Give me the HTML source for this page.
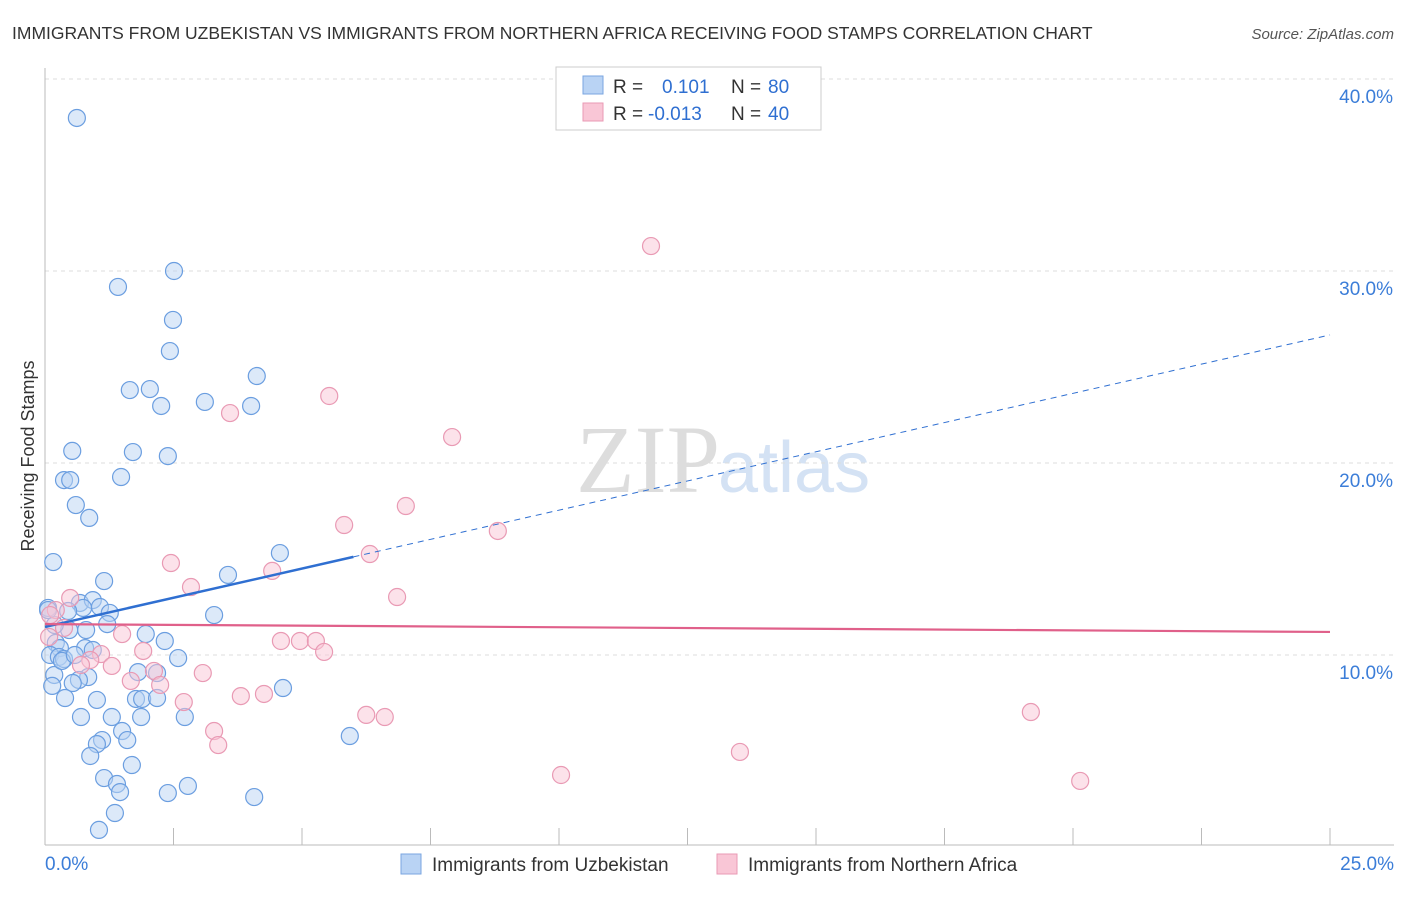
<!DOCTYPE html>
<html><head><meta charset="utf-8"><style>
body{margin:0;background:#fff;font-family:"Liberation Sans",sans-serif;}
svg text{font-family:"Liberation Sans",sans-serif;}
</style></head><body>
<svg id="chart" width="1406" height="892">
<text x="12" y="39" font-size="17.5" fill="#333">IMMIGRANTS FROM UZBEKISTAN VS IMMIGRANTS FROM NORTHERN AFRICA RECEIVING FOOD STAMPS CORRELATION CHART</text>
<text x="1394" y="39" font-size="15" fill="#555" text-anchor="end" font-style="italic">Source: ZipAtlas.com</text>
<text x="720" y="492" font-size="96" fill="#ddd" text-anchor="end" font-family="Liberation Serif" style="font-family:'Liberation Serif',serif">ZIP</text>
<text x="718" y="492" font-size="72" fill="#d4e2f4">atlas</text>
<g id="grid"></g><g id="axes"></g><g id="marks"></g>
<text transform="translate(34,456) rotate(-90)" font-size="18" fill="#333" text-anchor="middle">Receiving Food Stamps</text>
<g>
<rect x="556" y="67" width="265" height="63" fill="#fff" stroke="#ccc"/>
<rect x="583" y="76" width="20" height="18" fill="#b9d3f4" stroke="#7aa6e0"/>
<rect x="583" y="103" width="20" height="18" fill="#f9c6d6" stroke="#e99ab4"/>
<text x="613" y="93" font-size="19" fill="#333">R =</text>
<text x="662" y="93" font-size="19" fill="#2f6fd1">0.101</text>
<text x="731" y="93" font-size="19" fill="#333">N =</text>
<text x="768" y="93" font-size="19" fill="#2f6fd1">80</text>
<text x="613" y="120" font-size="19" fill="#333">R =</text>
<text x="648" y="120" font-size="19" fill="#2f6fd1">-0.013</text>
<text x="731" y="120" font-size="19" fill="#333">N =</text>
<text x="768" y="120" font-size="19" fill="#2f6fd1">40</text>
</g>
<g>
<rect x="401" y="854" width="20" height="20" fill="#b9d3f4" stroke="#7aa6e0"/>
<text x="432" y="871" font-size="19" fill="#333">Immigrants from Uzbekistan</text>
<rect x="717" y="854" width="20" height="20" fill="#f9c6d6" stroke="#e99ab4"/>
<text x="748" y="871" font-size="19" fill="#333">Immigrants from Northern Africa</text>
</g>
</svg>
<script>
const blueX=[0.62,1.42,2.51,2.49,2.43,4.12,1.65,2.04,2.26,3.11,4.01,0.53,1.71,2.39,0.37,0.49,1.48,0.60,0.86,0.16,4.57,1.15,3.56,0.06,0.68,0.93,1.07,1.26,0.74,1.21,3.29,0.47,0.80,1.96,2.33,0.21,0.29,0.78,0.93,0.10,0.27,0.37,2.59,0.18,1.81,2.18,0.84,0.66,0.54,0.14,4.63,1.01,0.39,1.77,1.89,2.18,0.70,1.30,1.87,2.72,1.50,1.60,1.11,1.01,5.93,0.88,1.69,1.15,1.40,1.46,2.39,2.78,4.07,1.36,1.05,0.06,0.33,0.19,0.45,0.58];
const blueY=[37.97,29.17,30.0,27.45,25.83,24.53,23.8,23.85,22.97,23.18,22.97,20.63,20.57,20.36,19.11,19.11,19.27,17.81,17.14,14.84,15.31,13.85,14.17,12.45,12.71,12.86,12.5,12.19,12.45,11.61,12.08,11.30,11.30,11.09,10.73,10.63,10.36,10.36,10.26,10.0,9.90,9.79,9.84,8.96,9.11,9.06,8.85,8.70,8.54,8.39,8.28,7.66,7.76,7.71,7.71,7.76,6.77,6.77,6.77,6.77,6.04,5.57,5.57,5.36,5.78,4.74,4.27,3.59,3.28,2.86,2.81,3.18,2.60,1.77,0.89,12.34,9.69,11.56,12.29,10.0];
const pinkX=[11.79,5.53,3.60,7.92,7.02,5.82,8.81,6.32,2.45,4.42,2.84,6.85,0.49,0.21,0.37,1.50,0.08,4.59,4.96,5.27,5.43,1.91,1.09,0.88,0.70,1.30,2.12,3.07,1.67,2.24,3.81,4.26,2.70,6.25,6.61,19.18,3.29,3.37,13.52,10.04,20.14,0.10];
const pinkY=[31.30,23.49,22.60,21.35,17.76,16.77,16.46,15.26,14.79,14.38,13.54,13.02,12.97,12.34,11.41,11.09,10.94,10.73,10.73,10.73,10.16,10.21,10.05,9.74,9.48,9.43,9.17,9.06,8.65,8.44,7.86,7.97,7.55,6.88,6.77,7.03,6.04,5.31,4.95,3.75,3.44,12.08];
const blueTrend=[11.46,26.67];const blueSolidEnd=6.0;
const pinkTrend=[11.61,11.2];
const yTicks=[10,20,30,40];
const xTicks=[0,2.5,5,7.5,10,12.5,15,17.5,20,22.5,25];
const xLabels=["0.0%","25.0%"];
const sx=v=>45+v*51.4, sy=v=>847-v*19.2;
const NS="http://www.w3.org/2000/svg";
function mk(t,a,p){const e=document.createElementNS(NS,t);for(const k in a)e.setAttribute(k,a[k]);p.appendChild(e);return e;}
const grid=document.getElementById('grid'),axes=document.getElementById('axes'),marks=document.getElementById('marks');
yTicks.forEach(v=>{const l=mk('line',{x1:45,x2:1394,y1:sy(v),y2:sy(v),stroke:'#ddd','stroke-dasharray':'4,4'},grid);


const t=mk('text',{x:1393,y:sy(v)+24,'font-size':19,fill:'#3b7dd8','text-anchor':'end'},axes);t.textContent=v.toFixed(1)+'%';

});
const ax=mk('line',{x1:45,x2:1394,y1:845,y2:845,stroke:'#bbb'},axes);


const ay=mk('line',{x1:45,x2:45,y1:68,y2:845,stroke:'#bbb'},axes);


xTicks.forEach(v=>{const l=mk('line',{x1:sx(v),x2:sx(v),y1:828,y2:845,stroke:'#bbb'},axes);

});
[[0,'start',xLabels[0]],[25,'end',xLabels[1]]].forEach(([v,a,s])=>{const t=mk('text',{x:v===0?45:1394,y:870,'font-size':19,fill:'#3b7dd8','text-anchor':a},axes);t.textContent=s;

});
function pts(X,Y,f,s,n){X.forEach((x,i)=>{const c=mk('circle',{cx:sx(x),cy:sy(Y[i]),r:8.5,fill:f,'fill-opacity':0.5,stroke:s,'stroke-width':1.2},marks);

});}
pts(blueX,blueY,'#b9d3f4','#6b9ee0','point-uzbekistan');
pts(pinkX,pinkY,'#f9c6d6','#e99ab4','point-northern-africa');
const bv=x=>blueTrend[0]+(blueTrend[1]-blueTrend[0])*x/25;
const b1=mk('line',{x1:sx(0),y1:sy(bv(0)),x2:sx(blueSolidEnd),y2:sy(bv(blueSolidEnd)),stroke:'#2f6fd1','stroke-width':2.5},marks);


const b2=mk('line',{x1:sx(blueSolidEnd),y1:sy(bv(blueSolidEnd)),x2:sx(25),y2:sy(bv(25)),stroke:'#2f6fd1','stroke-width':1,'stroke-dasharray':'6,5'},marks);


const p1=mk('line',{x1:sx(0),y1:sy(pinkTrend[0]),x2:sx(25),y2:sy(pinkTrend[1]),stroke:'#e0608a','stroke-width':2.2},marks);


</script>
</body></html>
